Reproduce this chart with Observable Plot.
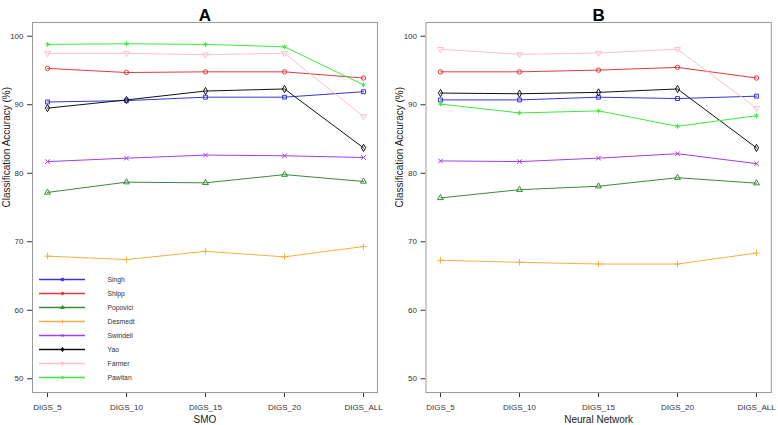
<!DOCTYPE html>
<html>
<head>
<meta charset="utf-8">
<script src="https://cdn.jsdelivr.net/npm/d3@7"></script>
<script src="https://cdn.jsdelivr.net/npm/@observablehq/plot@0.6"></script>
<style>
  body { margin: 0; background: #fff; }
  #wrap { position: relative; width: 778px; height: 425px; display: flex; font-family: "Liberation Sans", Arial, sans-serif; }
  #legend { position: absolute; left: 35px; top: 265px; }
</style>
</head>
<body>
<div id="wrap"><div id="legend"></div></div>
<script>
const steps = ["DIGS_5", "DIGS_10", "DIGS_15", "DIGS_20", "DIGS_ALL"];
const series = ["Singh", "Shipp", "Popovici", "Desmedt", "Swindell", "Yao", "Farmer", "Pawitan"];
const colors = ["#3535d8", "#e23a3e", "#3a8a3a", "#f7b040", "#a53ee2", "#111111", "#f8c2cc", "#3fe83f"];
const yTicks = [50, 60, 70, 80, 90, 100];

// Panel A: SMO
const smoSingh    = [90.4, 90.6, 91.1, 91.1, 91.9];
const smoShipp    = [95.3, 94.7, 94.8, 94.8, 93.9];
const smoPopovici = [77.2, 78.7, 78.6, 79.8, 78.8];
const smoDesmedt  = [67.9, 67.4, 68.6, 67.8, 69.3];
const smoSwindell = [81.7, 82.2, 82.65, 82.55, 82.3];
const smoYao      = [89.5, 90.7, 92.0, 92.3, 83.7];
const smoFarmer   = [97.5, 97.5, 97.3, 97.5, 88.3];
const smoPawitan  = [98.8, 98.9, 98.8, 98.45, 92.9];

// Panel B: Neural Network
const nnSingh    = [90.7, 90.7, 91.1, 90.9, 91.25];
const nnShipp    = [94.8, 94.8, 95.05, 95.45, 93.9];
const nnPopovici = [76.4, 77.6, 78.1, 79.35, 78.55];
const nnDesmedt  = [67.3, 67.0, 66.75, 66.75, 68.35];
const nnSwindell = [81.8, 81.7, 82.2, 82.85, 81.4];
const nnYao      = [91.7, 91.6, 91.8, 92.3, 83.7];
const nnFarmer   = [98.1, 97.35, 97.55, 98.1, 89.5];
const nnPawitan  = [90.1, 88.8, 89.1, 86.85, 88.4];

const smoValues = [smoSingh, smoShipp, smoPopovici, smoDesmedt, smoSwindell, smoYao, smoFarmer, smoPawitan];
const nnValues = [nnSingh, nnShipp, nnPopovici, nnDesmedt, nnSwindell, nnYao, nnFarmer, nnPawitan];

const triangleDown = {
  draw(context, size) {
    const s = Math.sqrt(size / (Math.sqrt(3) * 3));
    context.moveTo(0, 2 * s);
    context.lineTo(-Math.sqrt(3) * s, -s);
    context.lineTo(Math.sqrt(3) * s, -s);
    context.closePath();
  }
};
const symbols = ["square", "circle", "triangle", "plus", "times", "diamond", triangleDown, "asterisk"];

function rows(values) {
  return series.map((name, i) => steps.map((step, j) => ({series: name, idx: i, step, value: values[i][j]})));
}

function panel(values, title, xlabel, mLeft, mRight, ylabDx) {
  const groups = rows(values);
  const marks = [Plot.frame({stroke: "#9a9a9a"})];
  groups.forEach((g, i) => {
    marks.push(Plot.line(g, {x: "step", y: "value", stroke: colors[i], strokeWidth: 1}));
    marks.push(Plot.dot(g, {x: "step", y: "value", stroke: colors[i], fill: "none", symbol: symbols[i], r: 2.2, strokeWidth: 1}));
  });
  marks.push(Plot.text([title], {text: d => d, frameAnchor: "top", dy: -14, fontSize: 17, fontWeight: "bold", fill: "#000"}));
  marks.push(Plot.text([xlabel], {text: d => d, frameAnchor: "bottom", dy: 30, fontSize: 10, fill: "#222"}));
  marks.push(Plot.text(["Classification Accuracy (%)"], {text: d => d, frameAnchor: "left", rotate: -90, dx: ylabDx, fontSize: 10, fill: "#222"}));
  return Plot.plot({
    width: 389,
    height: 425,
    marginLeft: mLeft,
    marginRight: mRight,
    marginTop: 22,
    marginBottom: 33,
    style: {fontFamily: "Liberation Sans, Arial, sans-serif", fontSize: "8px", color: "#333", background: "#fff"},
    x: {type: "point", domain: steps, padding: 0.16, tickSize: 5, tickPadding: 7, label: null},
    y: {domain: [48, 102], ticks: yTicks, tickSize: 5, tickPadding: 4, label: null},
    marks
  });
}

const wrap = document.getElementById("wrap");
wrap.insertBefore(panel(smoValues, "A", "SMO", 32, 12, -26), wrap.firstChild);
wrap.insertBefore(panel(nnValues, "B", "Neural Network", 36.5, 7.2, -26.5), document.getElementById("legend"));

// Legend (inside panel A)
const legend = Plot.plot({
  width: 150,
  height: 120,
  marginLeft: 4,
  marginRight: 54,
  marginTop: 12.3,
  marginBottom: 7,
  style: {fontFamily: "Liberation Sans, Arial, sans-serif", background: "transparent"},
  x: {type: "band", domain: ["swatch", "label"], padding: 0, axis: null},
  y: {type: "point", domain: series, padding: 0, axis: null},
  marks: [
    ...series.map((s, i) => Plot.tickY([s], {x: () => "swatch", y: d => d, stroke: colors[i], strokeWidth: 1.6})),
    ...series.map((s, i) => Plot.dot([s], {x: () => "swatch", y: d => d, stroke: colors[i], fill: colors[i], symbol: symbols[i], r: 1.3, strokeWidth: 1})),
    Plot.text(series, {x: () => "label", y: d => d, text: d => d, textAnchor: "start", dx: -1, fontSize: 6.8, fill: "#333"})
  ]
});
document.getElementById("legend").appendChild(legend);
</script>
</body>
</html>
